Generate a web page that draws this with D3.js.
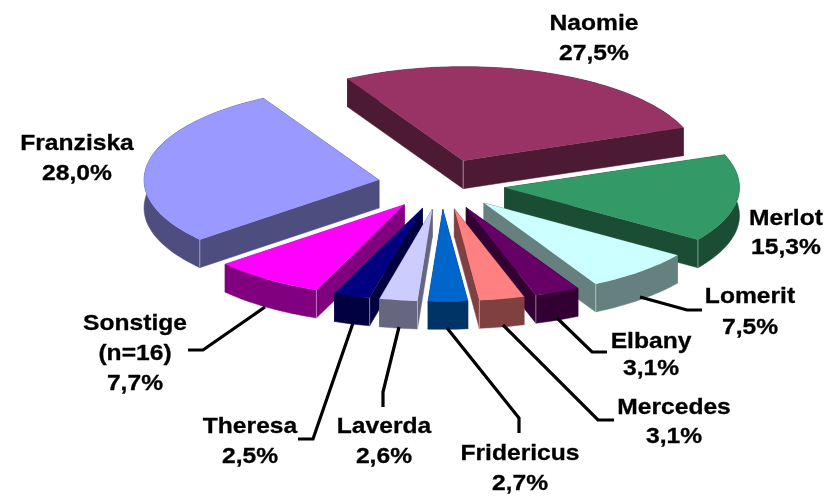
<!DOCTYPE html>
<html><head><meta charset="utf-8">
<script src="https://cdn.jsdelivr.net/npm/d3@7"></script>
<style>html,body{margin:0;background:#fff}svg{display:block;filter:blur(0.35px)}text{font-family:"Liberation Sans",Arial,sans-serif;font-weight:bold;font-size:22px;fill:#000;stroke:#000;stroke-width:0.3px}</style>
</head><body><svg id="c" width="833" height="496"></svg>
<script>
const names=["Naomie","Merlot","Lomerit","Elbany","Mercedes","Fridericus","Laverda","Theresa","Sonstige","Franziska"];
const values=[27.5,15.3,7.5,3.1,3.1,2.7,2.6,2.5,7.7,28.0];
const topColors=["#993366","#339966","#CCFFFF","#660066","#FF8080","#0066CC","#CCCCFF","#000080","#FF00FF","#9999FF"];
const wallColors=["#4D1A33","#1A4D33","#668080","#330033","#804040","#003366","#666680","#000040","#800080","#4D4D80"];
const labelLines=[["Naomie","27,5%"],["Merlot","15,3%"],["Lomerit","7,5%"],["Elbany","3,1%"],["Mercedes","3,1%"],["Fridericus","2,7%"],["Laverda","2,6%"],["Theresa","2,5%"],["Sonstige","(n=16)","7,7%"],["Franziska","28,0%"]];
const labelX=[594,786,750,651,674,520,384,250,135,77];
const labelY=[[30,60],[225,254],[303,334],[348,375],[414,443],[460,490],[433,463],[433,463],[330,360,390],[150,180]];
const leaders=[null,null,[[640,297],[687,310],[702,310]],[[557,318],[592,352],[607,352]],[[503,325],[598,420],[614,420]],[[447,328],[519,418],[519,433]],[[399,327],[383,392],[383,407]],[[353,323],[313,439],[298,439]],[[265,307],[203,350],[188,350]],null];

const cx=441.5,cy=184.5,rx=235,ryBack=94,ryFront=92,depth=28,explode=0.27,textStretch=1.12;
const x=d3.scaleLinear().domain([-1,1]).range([cx-rx,cx+rx]);
const y=d3.scaleLinear().domain([-1,0,1]).range([cy-ryBack,cy,cy+ryFront]);
const start=-29.5*Math.PI/180;
const arcs=d3.pie().sort(null).startAngle(start).endAngle(start+2*Math.PI)(values);
const svg=d3.select("#c");
const line=d3.line();
const down=p=>[p[0],p[1]+depth];

const slices=arcs.map((a,i)=>{
  const mid=(a.startAngle+a.endAngle)/2;
  const ox=explode*Math.sin(mid),oy=-explode*Math.cos(mid);
  const pt=t=>[x(ox+Math.sin(t)),y(oy-Math.cos(t))];
  const steps=Math.max(4,Math.ceil((a.endAngle-a.startAngle)*40));
  const rim=d3.range(steps+1).map(k=>pt(a.startAngle+(a.endAngle-a.startAngle)*k/steps));
  return {i,apex:[x(ox),y(oy)],rim,s:a.startAngle,e:a.endAngle};
}).sort((p,q)=>p.apex[1]-q.apex[1]);

slices.forEach(s=>{
  const g=svg.append("g");
  const fill=wallColors[s.i];
  const first=s.rim[0],last=s.rim[s.rim.length-1];
  const wall=pts=>g.append("path").attr("d",line(pts)+"Z").attr("fill",fill).attr("stroke",fill).attr("stroke-width",0.5);
  wall([s.apex,first,down(first),down(s.apex)]);
  wall([s.apex,last,down(last),down(s.apex)]);
  wall([...s.rim,...s.rim.map(down).reverse()]);
  g.append("path").attr("d",line([s.apex,...s.rim])+"Z").attr("fill",topColors[s.i]);
  const crease=[];
  const deg=180/Math.PI;
  if(s.e*deg<180&&s.e*deg>90) crease.push(last);
  if(s.s*deg>180&&s.s*deg<270) crease.push(first);
  if(s.s<0&&s.e>0) crease.push(s.apex);
  crease.forEach(p=>g.append("path").attr("d",line([p,down(p)])).attr("stroke","#fff").attr("stroke-opacity",0.45).attr("stroke-width",1));
});

leaders.forEach(l=>{ if(l) svg.append("path").attr("d",line(l)).attr("fill","none").attr("stroke","#000").attr("stroke-width",3.2); });

labelLines.forEach((lines,i)=>{
  lines.forEach((t,j)=>{
    svg.append("text").attr("text-anchor","middle")
      .attr("transform",`translate(${labelX[i]},${labelY[i][j]}) scale(${textStretch},1)`)
      .text(t);
  });
});
</script></body></html>
